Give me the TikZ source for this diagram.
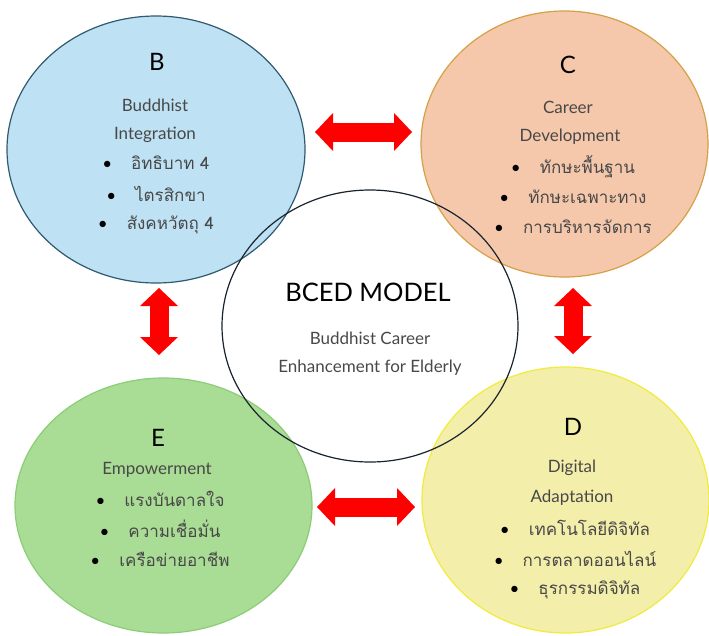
\documentclass[tikz,border=0pt]{standalone}
\usepackage{fontspec}
\setmainfont{Lato}
\newfontfamily\thaifont[Script=Thai]{Loma}
\usetikzlibrary{shapes.geometric}
\usetikzlibrary{arrows.meta}

\definecolor{bfill}{RGB}{190,225,243}
\definecolor{bline}{RGB}{47,90,112}
\definecolor{cfill}{RGB}{245,200,172}
\definecolor{cline}{RGB}{214,160,70}
\definecolor{efill}{RGB}{169,220,148}
\definecolor{eline}{RGB}{140,205,120}
\definecolor{dfill}{RGB}{243,239,170}
\definecolor{dline}{RGB}{240,235,60}
\definecolor{mline}{RGB}{25,35,45}
\definecolor{textgray}{RGB}{72,72,72}

\newcommand{\bitem}[1]{\textcolor{black}{\textbullet}\hspace{19pt}{\thaifont #1}}

\tikzset{
  circ/.style={ellipse, draw, line width=1.2pt, inner sep=0pt},
  letter/.style={font=\fontsize{24}{24}\selectfont, text=black},
  title/.style={font=\fontsize{17}{17}\selectfont, text=textgray},
  item/.style={font=\fontsize{17}{17}\selectfont, text=textgray},
  link/.style={line width=19pt, red,
    {Triangle[width=38pt,length=18pt,line width=0pt]}-{Triangle[width=38pt,length=18pt,line width=0pt]}}
}

\begin{document}
\begin{tikzpicture}[x=1pt,y=-1pt]
  \useasboundingbox (0,0) rectangle (709,635);

  % the four circles
  \node[circ, draw=bline, fill=bfill, minimum width=298pt, minimum height=267pt] (B) at (156,149.5) {};
  \node[circ, draw=cline, fill=cfill, minimum width=287pt, minimum height=266pt] (C) at (564.5,144) {};
  \node[circ, draw=eline, fill=efill, minimum width=297pt, minimum height=255pt] (E) at (163.5,505.5) {};
  \node[circ, draw=dline, fill=dfill, minimum width=287pt, minimum height=266pt] (D) at (565.5,500) {};

  % model circle in the middle
  \node[circ, draw=mline, minimum width=296pt, minimum height=272pt] (M) at (370,326) {};

  % B
  \node[letter] (Bl) at (157,62) {B};
  \node[title] (Bt1) at (155,105) {Buddhist};
  \node[title] (Bt2) at (155,135) {Integration};
  \foreach \t [count=\i] in {อิทธิบาท 4, ไตรสิกขา, สังคหวัตถุ 4}
    \node[item] (Bi\i) at (156,{132+31*\i}) {\bitem{\t}};

  % C
  \node[letter] (Cl) at (568,65) {C};
  \node[title] (Ct1) at (568,107) {Career};
  \node[title] (Ct2) at (570,137) {Development};
  \foreach \t [count=\i] in {ทักษะพื้นฐาน, ทักษะเฉพาะทาง, การบริหารจัดการ}
    \node[item] (Ci\i) at (573,{137+30*\i}) {\bitem{\t}};

  % D
  \node[letter] (Dl) at (573,427) {D};
  \node[title] (Dt1) at (572,468) {Digital};
  \node[title] (Dt2) at (572,498) {Adaptation};
  \foreach \t [count=\i] in {เทคโนโลยีดิจิทัล, การตลาดออนไลน์, ธุรกรรมดิจิทัล}
    \node[item] (Di\i) at (575,{497+31*\i}) {\bitem{\t}};

  % E
  \node[letter] (El) at (158,438) {E};
  \node[title] (Et1) at (157,470) {Empowerment};
  \foreach \t [count=\i] in {แรงบันดาลใจ, ความเชื่อมั่น, เครือข่ายอาชีพ}
    \node[item] (Ei\i) at (160,{469+30*\i}) {\bitem{\t}};

  % middle text
  \node[font=\fontsize{25.5}{25.5}\selectfont, text=black] (Mt) at (368,292) {BCED MODEL};
  \node[title] (Ms1) at (370,338) {Buddhist Career};
  \node[title] (Ms2) at (370,368) {Enhancement for Elderly};

  % red links between the circles
  \coordinate (bc1) at (315,132);
  \coordinate (bc2) at (412,132);
  \coordinate (be1) at (159,288);
  \coordinate (be2) at (159,355);
  \coordinate (cd1) at (573,288);
  \coordinate (cd2) at (573,354);
  \coordinate (ed1) at (317,507);
  \coordinate (ed2) at (415,507);
  \draw[link] (bc1) -- (bc2);
  \draw[link] (be1) -- (be2);
  \draw[link] (cd1) -- (cd2);
  \draw[link] (ed1) -- (ed2);

\end{tikzpicture}
\end{document}
